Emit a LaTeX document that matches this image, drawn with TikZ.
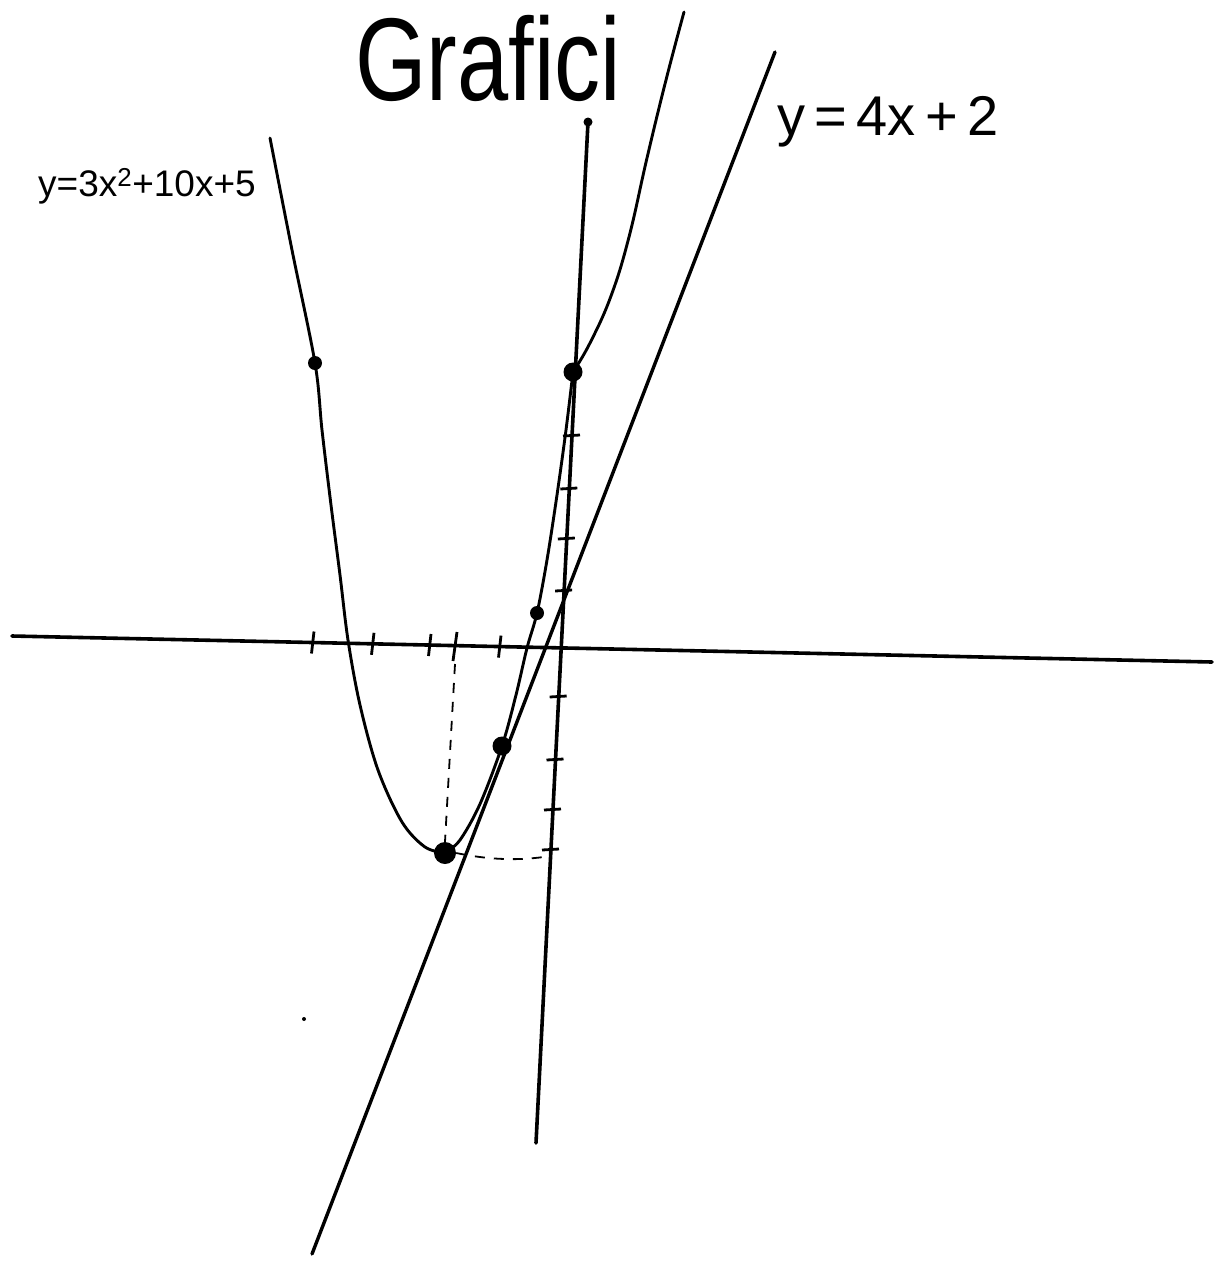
\documentclass[tikz,border=0pt]{standalone}
\usepackage{fontspec}
\setmainfont{Liberation Sans}
\begin{document}
\begin{tikzpicture}[x=1pt,y=-1pt,
  axis/.style={line width=3.6pt, line cap=round},
  graphline/.style={line width=3.4pt, line cap=round},
  curve/.style={line width=2.9pt, line cap=round, line join=round},
  tickmark/.style={line width=2.8pt},
  guide/.style={line width=1.8pt, dash pattern=on 10pt off 9pt},
  bigdot/.style={circle, fill=black, inner sep=0pt, minimum size=19pt},
  middot/.style={circle, fill=black, inner sep=0pt, minimum size=14pt},
  smalldot/.style={circle, fill=black, inner sep=0pt, minimum size=9pt},
  speck/.style={circle, fill=black, inner sep=0pt, minimum size=4pt},
  lbl/.style={inner sep=0pt, anchor=base west}]
\fill[white] (0,0) rectangle (1216,1267);
\useasboundingbox (0,0) rectangle (1216,1267);

% title and labels
\node[inner sep=0pt, anchor=base] (title) at (488,100)
  {\fontsize{92}{96}\selectfont\scalebox{1}[1.28]{Grafici}};
\node[lbl] (lab1) at (777,135) {\fontsize{56}{60}\selectfont y\,=\,4x\,+\,2};
\node[lbl] (lab2) at (38,196) {\fontsize{37}{40}\selectfont y=3x\textsuperscript{2}+10x+5};

% axes
\coordinate (xl) at (12,636);
\coordinate (xr) at (1212,662);
\node[smalldot] (ytop) at (588,122) {};
\coordinate (ybot) at (536,1143);
\draw[axis] (xl) -- (xr);
\draw[axis] (ytop.center) -- (ybot);

% ticks on x-axis
\foreach \tx/\ty in {313/642.5, 373/643.8, 430/645, 500/646.6}
  \draw[tickmark] (\tx+1,\ty-11) -- (\tx-1.5,\ty+11);
\draw[tickmark] (457,632) -- (453,661);

% ticks on y-axis
\foreach \tx/\ty in {572/436, 569.3/489, 566.8/539, 564.1/591, 558.7/697, 555.5/760, 553/810, 551/850}
  \draw[tickmark] (\tx-9,\ty) -- (\tx+8,\ty-1);

% line y = 4x + 2
\coordinate (l1) at (775,52);
\coordinate (l2) at (312,1254);
\draw[graphline] (l1) -- (l2);

% points
\node[middot] (p1) at (315,363) {};
\node[bigdot] (p2) at (573,372) {};
\node[middot] (p3) at (537,613) {};
\node[bigdot] (p4) at (502,746) {};
\node[bigdot, minimum size=22pt] (vert) at (445,853) {};
\node[speck] (sp) at (304,1019) {};

% parabola
\draw[curve] plot[smooth, tension=0.55] coordinates {(270,138) (292,250) (315,363) (322,430) (331,505) (340,575) (348,640) (360,705) (378,770) (402,822) (425,847) (445,853)};
\draw[curve] plot[smooth, tension=0.55] coordinates {(445,853) (460,840) (480,804) (502,746) (516,695) (527,648) (537,613) (547,560) (557,495) (566,430) (573,372)};
\draw[curve] plot[smooth, tension=0.7] coordinates {(573,372) (590,343) (611,296) (629,237) (647,158) (666,80) (684,12)};

% dashed guides
\draw[guide] (455,664) -- (vert.north);
\draw[guide] (vert.east) .. controls (490,860) and (520,861) .. (550,856);
\end{tikzpicture}
\end{document}
